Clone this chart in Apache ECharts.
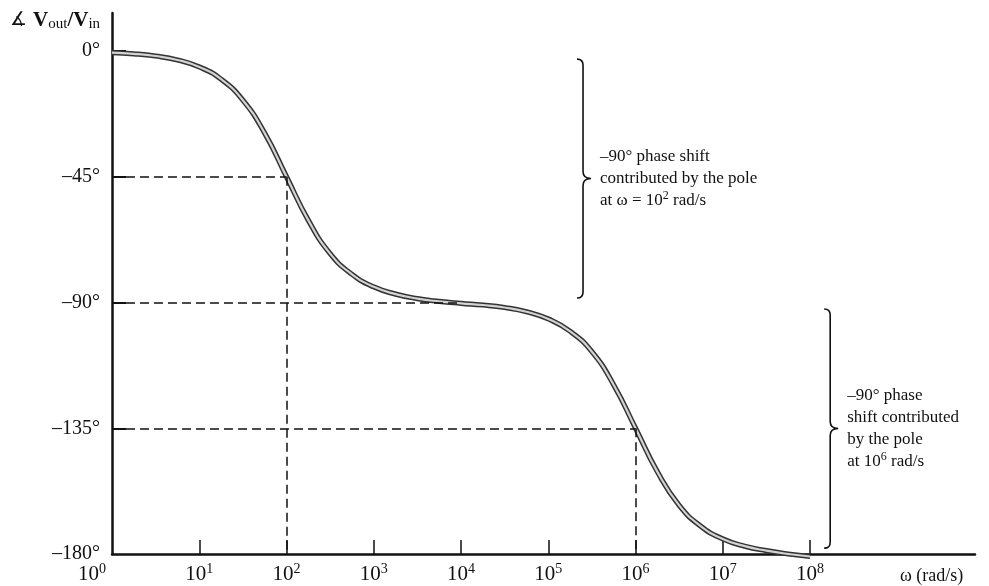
<!DOCTYPE html>
<html>
<head>
<meta charset="utf-8">
<script src="https://cdn.jsdelivr.net/npm/echarts@6/dist/echarts.min.js"></script>
<style>
  html, body { margin: 0; padding: 0; background: #fff; }
  #chart { width: 989px; height: 586px; }
</style>
</head>
<body>
<div id="chart"></div>
<script>
// ---- data ----
const omega = [1, 1.78, 3.16, 5.62, 10, 17.8, 31.6, 56.2, 100, 178, 316, 562,
  1000, 1780, 3160, 5620, 1e4, 1.78e4, 3.16e4, 5.62e4, 1e5, 1.78e5, 3.16e5, 5.62e5,
  1e6, 1.78e6, 3.16e6, 5.62e6, 1e7, 1.78e7, 3.16e7, 5.62e7, 1e8];
const phaseDeg = [-0.6, -1.0, -1.8, -3.2, -5.7, -10.1, -17.6, -29.4, -45.0, -60.6, -72.5, -79.9,
  -84.4, -87.0, -88.6, -89.6, -90.3, -90.9, -91.8, -93.3, -95.9, -100.3, -107.6, -119.5,
  -135.0, -150.6, -162.6, -170.1, -174.6, -177.2, -178.8, -180.0, -180.9];

const xTickValues = [10, 100, 1000, 1e4, 1e5, 1e6, 1e7, 1e8];
const xLabelValues = [1, 10, 100, 1000, 1e4, 1e5, 1e6, 1e7, 1e8];
const yTickValues = [0, -45, -90, -135];
const yLabelValues = [0, -45, -90, -135, -180];

// dashed guide segments [from, to] as [omega, degrees]
const guideFrom = [[1, -45], [100, -45], [1, -90], [1, -135], [1e6, -135]];
const guideTo   = [[100, -45], [100, -180], [1e4, -90], [1e6, -135], [1e6, -180]];

// braces: [omega position, top degrees, bottom degrees]
const braces = [[2.5e5, -2.9, -88.4], [1.7e8, -92.3, -177.9]];
const braceTexts = [
  '{n|–90° phase shift}\n{n|contributed by the pole}\n{n|at ω = 10}{s|2}{n| rad/s}',
  '{n|–90° phase}\n{n|shift contributed}\n{n|by the pole}\n{n|at 10}{s|6}{n| rad/s}'
];

const yTitle = '{a|∡ }{v|V}{sub|out}{v|/V}{sub|in}';
const xTitle = 'ω (rad/s)';

// ---- chart ----
const FONT = "'Liberation Serif', 'DejaVu Serif', serif";
const curve = omega.map((w, i) => [w, phaseDeg[i]]);
const guides = guideFrom.map((f, i) => [{ coord: f }, { coord: guideTo[i] }]);

const chart = echarts.init(document.getElementById('chart'), null, { renderer: 'canvas' });
chart.setOption({
  backgroundColor: '#fff',
  animation: false,
  textStyle: { fontFamily: FONT, color: '#111' },
  grid: { left: 112, right: 14, top: 13, bottom: 32, containLabel: false },
  xAxis: {
    type: 'log', logBase: 10, min: 1, max: 7.76e9,
    axisLine: { onZero: false, lineStyle: { color: '#111', width: 2.5 } },
    axisTick: { inside: true, length: 14, lineStyle: { color: '#111', width: 1.5 }, customValues: xTickValues },
    splitLine: { show: false },
    minorTick: { show: false },
    axisLabel: {
      customValues: xLabelValues,
      margin: 8,
      color: '#111',
      formatter: function (v) {
        const e = Math.round(Math.log10(v));
        return e === 0 ? '{b|10}{s|0}{p|}' : '{b|10}{s|' + e + '}';
      },
      rich: {
        b: { fontFamily: FONT, fontSize: 21, lineHeight: 24, color: '#111' },
        s: { fontFamily: FONT, fontSize: 14, lineHeight: 8, verticalAlign: 'top', color: '#111' },
        p: { width: 40 }
      }
    }
  },
  yAxis: {
    type: 'value', min: -180, max: 13.6,
    axisLine: { show: true, onZero: false, lineStyle: { color: '#111', width: 2.5 } },
    axisTick: { show: true, inside: true, length: 14, lineStyle: { color: '#111', width: 2 }, customValues: yTickValues },
    splitLine: { show: false },
    axisLabel: {
      customValues: yLabelValues,
      margin: 12,
      fontFamily: FONT, fontSize: 20, color: '#111',
      formatter: function (v) { return v === 0 ? '0°' : '–' + Math.abs(v) + '°'; }
    }
  },
  series: [
    {
      type: 'line', data: [], z: 1, silent: true,
      markLine: {
        silent: true, symbol: ['none', 'none'],
        label: { show: false },
        lineStyle: { color: '#111', width: 1.5, type: [9, 5] },
        data: guides
      }
    },
    {
      type: 'line', data: curve, smooth: true, showSymbol: false, symbol: 'none', clip: false, z: 3, silent: true,
      lineStyle: { color: '#333', width: 5.2 }
    },
    {
      type: 'line', data: curve, smooth: true, showSymbol: false, symbol: 'none', clip: false, z: 4, silent: true,
      lineStyle: { color: '#d2d2d2', width: 2.2 }
    },
    {
      type: 'custom', data: braces, clip: false, z: 5, silent: true,
      renderItem: function (params, api) {
        const top = api.coord([api.value(0), api.value(1)]);
        const bot = api.coord([api.value(0), api.value(2)]);
        const px = top[0], y0 = top[1], y1 = bot[1], ym = (y0 + y1) / 2;
        const d = 'M' + (px - 6) + ' ' + y0 +
          ' Q' + px + ' ' + y0 + ' ' + px + ' ' + (y0 + 6) +
          ' L' + px + ' ' + (ym - 7) +
          ' Q' + px + ' ' + ym + ' ' + (px + 8) + ' ' + ym +
          ' Q' + px + ' ' + ym + ' ' + px + ' ' + (ym + 7) +
          ' L' + px + ' ' + (y1 - 6) +
          ' Q' + px + ' ' + y1 + ' ' + (px - 6) + ' ' + y1;
        return {
          type: 'group',
          children: [
            { type: 'path', shape: { pathData: d }, style: { stroke: '#111', fill: null, lineWidth: 1.6 } },
            {
              type: 'text',
              style: {
                x: px + 17, y: ym, verticalAlign: 'middle', align: 'left',
                text: braceTexts[params.dataIndex],
                rich: {
                  n: { fontFamily: FONT, fontSize: 17, lineHeight: 22, fill: '#111' },
                  s: { fontFamily: FONT, fontSize: 12, lineHeight: 8, verticalAlign: 'top', fill: '#111' }
                }
              }
            }
          ]
        };
      }
    }
  ],
  graphic: [
    {
      type: 'text', left: 10, top: 10,
      style: {
        text: yTitle,
        rich: {
          a: { fontFamily: "'DejaVu Sans', sans-serif", fontSize: 19, lineHeight: 22, fill: '#111' },
          v: { fontFamily: FONT, fontSize: 21, fontWeight: 'bold', lineHeight: 22, fill: '#111' },
          sub: { fontFamily: FONT, fontSize: 15, lineHeight: 12, verticalAlign: 'bottom', fill: '#111' }
        }
      }
    },
    {
      type: 'text', left: 900, top: 567,
      style: { text: xTitle, fontFamily: FONT, fontSize: 18, fill: '#111' }
    }
  ]
});
</script>
</body>
</html>
